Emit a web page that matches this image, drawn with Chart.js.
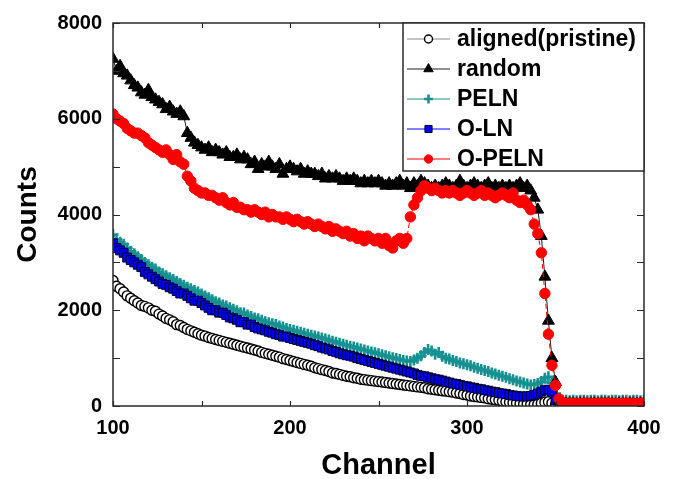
<!DOCTYPE html>
<html><head><meta charset="utf-8">
<script src="https://cdn.jsdelivr.net/npm/chart.js@4.4.1/dist/chart.umd.min.js"></script>
<style>html,body{margin:0;padding:0;background:#fff}#wrap{width:674px;height:479px;position:relative}</style>
</head><body><div id="wrap"><canvas id="c"></canvas></div>
<script>
const channels = [
100,102,104,106,108,110,112,114,116,118,
120,122,124,126,128,130,132,134,136,138,
140,142,144,146,148,150,152,154,156,158,
160,162,164,166,168,170,172,174,176,178,
180,182,184,186,188,190,192,194,196,198,
200,202,204,206,208,210,212,214,216,218,
220,222,224,226,228,230,232,234,236,238,
240,242,244,246,248,250,252,254,256,258,
260,262,264,266,268,270,272,274,276,278,
280,282,284,286,288,290,292,294,296,298,
300,302,304,306,308,310,312,314,316,318,
320,322,324,326,328,330,332,334,336,338,
340,342,344,346,348,350,352,354,356,358,
360,362,364,366,368,370,372,374,376,378,
380,382,384,386,388,390,392,394,396,398,
400];

const alignedCounts = [
2620,2500,2450,2380,2300,2250,2200,2150,2100,2080,
2050,2000,1980,1920,1880,1830,1800,1760,1700,1680,
1640,1600,1570,1540,1510,1480,1460,1430,1410,1390,
1370,1350,1330,1310,1290,1270,1250,1230,1210,1190,
1170,1150,1120,1100,1080,1060,1040,1020,990,970,
950,930,910,890,870,850,830,800,780,760,
740,720,690,680,660,640,620,610,590,580,
560,550,540,530,520,510,500,490,480,470,
460,450,440,430,420,410,400,390,380,360,
350,340,330,320,310,300,290,270,260,240,
230,210,200,190,180,170,150,140,130,120,
100,90,80,70,60,50,40,40,30,30,
40,60,80,90,60,20,10,10,10,10,
10,10,10,10,10,10,10,10,10,10,
10,10,10,10,10,10,10,10,10,10,
10];

const randomCounts = [
7250,7000,7100,6950,6900,6800,6700,6650,6550,6500,
6600,6450,6400,6350,6300,6200,6250,6150,6100,6150,
6050,5700,5600,5500,5450,5400,5350,5400,5300,5350,
5300,5250,5300,5200,5200,5250,5150,5200,5150,5050,
5100,4950,5050,5000,5100,5000,4950,5050,4850,4950,
5000,4950,4900,4950,4850,4900,4850,4850,4800,4850,
4750,4800,4750,4800,4750,4700,4750,4700,4750,4700,
4650,4700,4650,4700,4650,4700,4650,4600,4650,4600,
4650,4700,4600,4650,4550,4650,4600,4700,4650,4600,
4550,4600,4550,4600,4650,4600,4550,4600,4700,4600,
4550,4600,4650,4600,4550,4600,4650,4550,4600,4550,
4600,4550,4600,4550,4600,4650,4550,4600,4500,4350,
4100,3550,2700,1780,1000,500,120,60,50,50,
50,40,50,50,40,50,50,40,50,50,
50,50,40,50,50,40,50,50,40,50,
50];

const pelnCounts = [
3580,3480,3420,3380,3300,3230,3180,3120,3060,3000,
2950,2900,2860,2800,2760,2720,2680,2640,2600,2560,
2520,2480,2450,2410,2380,2340,2300,2260,2220,2180,
2150,2110,2090,2050,2020,1990,1950,1940,1900,1870,
1840,1820,1790,1760,1740,1720,1700,1670,1650,1620,
1600,1580,1560,1540,1520,1500,1480,1460,1440,1420,
1400,1380,1350,1330,1310,1290,1270,1250,1230,1210,
1190,1170,1150,1130,1110,1090,1070,1050,1030,1010,
990,970,950,940,930,960,1000,1050,1120,1180,
1150,1080,1120,1040,1000,980,950,930,900,880,
860,840,810,790,760,740,720,690,670,640,
620,600,570,550,520,500,480,460,440,450,
470,510,580,610,480,260,150,120,120,110,
120,110,120,120,110,120,120,110,120,120,
110,120,120,110,120,120,110,120,120,110,
120];

const olnCounts = [
3400,3300,3250,3200,3100,3050,3000,2950,2900,2800,
2750,2700,2650,2600,2550,2530,2480,2450,2400,2350,
2350,2300,2250,2200,2200,2150,2100,2050,2000,2000,
1950,1950,1900,1850,1830,1800,1750,1750,1700,1700,
1650,1620,1600,1580,1550,1530,1500,1480,1450,1450,
1420,1400,1380,1360,1340,1320,1300,1270,1250,1220,
1200,1180,1150,1130,1100,1080,1060,1050,1030,1000,
980,960,940,920,900,880,860,840,820,800,
780,760,740,720,700,680,650,630,620,600,
580,560,550,530,510,490,470,460,440,420,
410,390,380,360,350,330,320,300,290,270,
260,250,230,220,210,200,200,200,210,230,
260,300,330,340,300,120,40,30,30,30,
30,30,30,30,30,30,30,30,30,30,
30,30,30,30,30,30,30,30,30,30,
30];

const opelnCounts = [
6100,6000,5950,5900,5800,5750,5700,5700,5650,5600,
5500,5450,5400,5350,5300,5350,5250,5150,5250,5100,
5050,4800,4700,4550,4500,4450,4450,4400,4400,4350,
4300,4350,4250,4200,4250,4150,4150,4100,4100,4050,
4100,4050,4000,4050,3950,4000,3950,3950,3900,3950,
3900,3850,3900,3850,3800,3850,3800,3750,3800,3750,
3700,3750,3650,3700,3650,3600,3650,3550,3600,3500,
3550,3450,3550,3500,3450,3500,3400,3500,3350,3300,
3450,3500,3400,3500,3950,4200,4350,4500,4600,4550,
4500,4550,4500,4450,4500,4450,4500,4450,4400,4450,
4500,4450,4400,4450,4500,4400,4450,4400,4350,4400,
4450,4400,4350,4450,4300,4250,4300,4200,4100,3800,
3600,3200,2350,1500,850,430,150,70,60,60,
60,60,50,60,60,60,50,60,60,60,
60,60,60,50,60,60,60,60,50,60,
60];

const seriesNames = ['aligned(pristine)', 'random', 'PELN', 'O-LN', 'O-PELN'];
const xTickLabels = [100, 200, 300, 400];
const yTickLabels = [0, 2000, 4000, 6000, 8000];

const FONT = "'Liberation Sans', Arial, Helvetica, sans-serif";
function pts(arr) { return arr.map((v, i) => ({ x: channels[i], y: v })); }

const datasets = [
  { label: seriesNames[0], data: pts(alignedCounts), order: 4,
    borderColor: '#8a8a8a', borderWidth: 1, pointStyle: 'circle', pointRadius: 5,
    pointBackgroundColor: '#ffffff', pointBorderColor: '#000000', pointBorderWidth: 1.4 },
  { label: seriesNames[1], data: pts(randomCounts), order: 1,
    borderColor: '#202020', borderWidth: 1, pointStyle: 'triangle', pointRadius: 6.8,
    pointBackgroundColor: '#000000', pointBorderColor: '#000000', pointBorderWidth: 1 },
  { label: seriesNames[2], data: pts(pelnCounts), order: 3,
    borderColor: '#169191', borderWidth: 1, pointStyle: 'cross', pointRadius: 5.5,
    pointBackgroundColor: '#169191', pointBorderColor: '#169191', pointBorderWidth: 2.6 },
  { label: seriesNames[3], data: pts(olnCounts), order: 2,
    borderColor: '#0000ff', borderWidth: 1, pointStyle: 'rect', pointRadius: 6.3,
    pointBackgroundColor: '#0000ee', pointBorderColor: '#000033', pointBorderWidth: 1 },
  { label: seriesNames[4], data: pts(opelnCounts), order: 0,
    borderColor: '#ff0000', borderWidth: 1, borderDash: [5, 3], pointStyle: 'circle', pointRadius: 5.2,
    pointBackgroundColor: '#ff0000', pointBorderColor: '#ff0000', pointBorderWidth: 1 }
];

const framePlugin = {
  id: 'frame',
  afterDatasetsDraw(chart) {
    const ctx = chart.ctx, a = chart.chartArea;
    const xs = chart.scales.x, ys = chart.scales.y;
    ctx.save();
    ctx.strokeStyle = '#2a2a2a';
    ctx.lineWidth = 1.5;
    ctx.setLineDash([]);
    ctx.strokeRect(a.left, a.top, a.right - a.left, a.bottom - a.top);
    ctx.lineWidth = 1.2;
    ctx.beginPath();
    xs.ticks.forEach(t => {
      const px = Math.round(xs.getPixelForValue(t.value)) + 0.5;
      ctx.moveTo(px, a.bottom); ctx.lineTo(px, a.bottom - 5);
      ctx.moveTo(px, a.top); ctx.lineTo(px, a.top + 5);
    });
    ys.ticks.forEach(t => {
      const py = Math.round(ys.getPixelForValue(t.value)) + 0.5;
      ctx.moveTo(a.left, py); ctx.lineTo(a.left + 7, py);
      ctx.moveTo(a.right, py); ctx.lineTo(a.right - 7, py);
    });
    ctx.stroke();
    ctx.restore();
  }
};

const legendPlugin = {
  id: 'boxLegend',
  afterDraw(chart) {
    const ctx = chart.ctx, a = chart.chartArea;
    const bx = 403, by = a.top, bw = a.right - bx, bh = 148;
    ctx.save();
    ctx.fillStyle = '#ffffff';
    ctx.fillRect(bx, by, bw, bh);
    ctx.strokeStyle = '#2a2a2a';
    ctx.lineWidth = 1.5;
    ctx.strokeRect(bx, by, bw, bh);
    chart.data.datasets.forEach((ds, i) => {
      const cy = by + 16 + i * 30;
      ctx.strokeStyle = ds.borderColor;
      ctx.lineWidth = 1.2;
      ctx.setLineDash([]);
      ctx.beginPath();
      ctx.moveTo(bx + 4, cy); ctx.lineTo(bx + 47, cy);
      ctx.stroke();
      ctx.fillStyle = ds.pointBackgroundColor;
      ctx.strokeStyle = ds.pointBorderColor;
      ctx.lineWidth = ds.pointBorderWidth;
      Chart.helpers.drawPoint(ctx, { pointStyle: ds.pointStyle, radius: ds.pointRadius * 0.8,
        borderWidth: ds.pointBorderWidth, rotation: 0 }, bx + 25.5, cy);
      ctx.fillStyle = '#000';
      ctx.font = 'bold 23px ' + FONT;
      ctx.textBaseline = 'middle';
      ctx.textAlign = 'left';
      ctx.fillText(ds.label, bx + 54, cy + 1);
    });
    ctx.restore();
  }
};

new Chart(document.getElementById('c'), {
  type: 'line',
  data: { datasets },
  options: {
    responsive: true, maintainAspectRatio: false, animation: false,
    devicePixelRatio: 1,
    layout: { padding: { top: 17, right: 30, left: 0, bottom: 0 } },
    plugins: { legend: { display: false }, tooltip: { enabled: false } },
    elements: { line: { tension: 0 } },
    scales: {
      x: {
        type: 'linear', min: 100, max: 400,
        grid: { display: false, drawTicks: false },
        border: { display: false },
        ticks: { stepSize: 50, autoSkip: false, maxRotation: 0, padding: 10, color: '#000',
          font: { family: FONT, size: 20, weight: 'bold' },
          callback: v => xTickLabels.includes(v) ? String(v) : '' },
        title: { display: true, text: 'Channel', color: '#000',
          font: { family: FONT, size: 29, weight: 'bold', lineHeight: 1 }, padding: { top: 0, bottom: -1 } },
        afterFit(s) { s.height = 73; }
      },
      y: {
        type: 'linear', min: 0, max: 8000,
        grid: { display: false, drawTicks: false },
        border: { display: false },
        ticks: { stepSize: 1000, autoSkip: false, padding: 11, color: '#000',
          font: { family: FONT, size: 20, weight: 'bold' },
          callback: v => yTickLabels.includes(v) ? String(v) : '' },
        title: { display: true, text: 'Counts', color: '#000',
          font: { family: FONT, size: 28, weight: 'bold', lineHeight: 1 }, padding: { top: 14, bottom: 0 } },
        afterFit(s) { s.width = 113; }
      }
    }
  },
  plugins: [framePlugin, legendPlugin]
});
</script>
</body></html>
